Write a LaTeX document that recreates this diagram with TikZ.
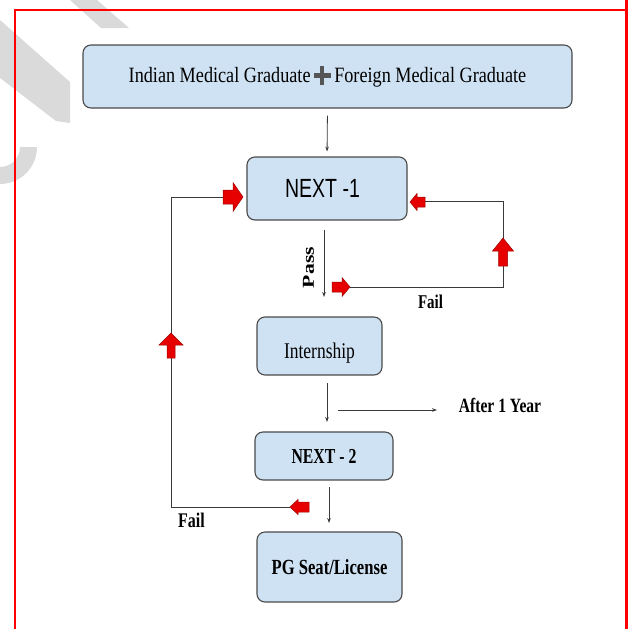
\documentclass[tikz,border=0pt]{standalone}
\usepackage{fontspec}
\setmainfont{Liberation Serif}
\newfontfamily\sansfont{Liberation Sans}
\usetikzlibrary{arrows.meta}
\definecolor{boxfill}{HTML}{CFE2F3}
\definecolor{boxdraw}{HTML}{4A4A4A}
\definecolor{linegray}{HTML}{3A3A3A}
\definecolor{wmgray}{HTML}{DADADA}
\definecolor{arrowred}{HTML}{E60000}
\definecolor{arrowedge}{HTML}{A00000}
\definecolor{plusgray}{HTML}{555555}
\definecolor{framered}{HTML}{FF0000}
\newcommand{\vs}[2]{\scalebox{1}[#1]{#2}}
\newcommand{\heavyplus}{\textcolor{plusgray}{\rlap{\rule[0.22em]{0.9em}{0.22em}}\hspace{0.34em}\rule[-0.12em]{0.22em}{0.9em}\hspace{0.34em}}}
% #1 tail point, #2 angle, #3 length, #4 head length, #5 shaft half width, #6 head half width
\newcommand{\blockarrow}[6]{\draw[redarrow, shift={#1}, rotate=#2] (0,-#5) -- ({#3-#4},-#5) -- ({#3-#4},-#6) -- (#3,0) -- ({#3-#4},#6) -- ({#3-#4},#5) -- (0,#5) -- cycle;}
\tikzset{
  box/.style={draw=boxdraw, line width=1.1pt, fill=boxfill, rounded corners=8pt, inner sep=0pt, align=center},
  conn/.style={draw=linegray, line width=0.8pt},
  thinarrow/.style={conn, -{Stealth[length=5pt,width=3.6pt]}},
  lbl/.style={inner sep=0pt},
  redarrow/.style={fill=arrowred, draw=arrowedge, line width=0.5pt, line join=miter},
  watermark/.style={fill=wmgray, draw=none},
  frame/.style={draw=framered, line width=1.4pt}
}
\begin{document}
\begin{tikzpicture}[x=1pt,y=-1pt]
\useasboundingbox (0,0) rectangle (631,629);
% watermark fragments
\fill[watermark] (70,0) -- (97,0) -- (129,28) -- (101,28) -- cycle;
\fill[watermark] (0,20) -- (70,82) -- (70,123) -- (56,121) -- (0,78) -- cycle;
\fill[watermark] (37,147) arc[start angle=0, end angle=90, radius=37] -- (0,167) arc[start angle=90, end angle=0, radius=20] -- cycle;
% frame
\draw[frame] (15,629) -- (15,10) -- (626,10);
\draw[framered, line width=2.4pt] (626.5,0) -- (626.5,629);
% boxes
\node[box, minimum width=489pt, minimum height=63pt, font=\fontsize{18.2}{22}\selectfont] (top) at (327.5,76.5)
  {\vs{1.2}{Indian Medical Graduate\hspace{0.2em}\heavyplus\hspace{0.2em}Foreign Medical Graduate}};
\node[box, minimum width=160pt, minimum height=63pt, font=\sansfont\fontsize{19.5}{22}\selectfont] (n1) at (327,188.5)
  {\hspace*{-9pt}\vs{1.35}{NEXT -1}};
\node[box, minimum width=125pt, minimum height=58pt, text height=30pt, text depth=6pt, font=\fontsize{17.5}{20}\selectfont] (intern) at (319.5,346)
  {\vs{1.28}{Internship}};
\node[box, minimum width=138pt, minimum height=48pt, font=\bfseries\fontsize{15.8}{18}\selectfont] (n2) at (324,456)
  {\vs{1.35}{NEXT - 2}};
\node[box, minimum width=145pt, minimum height=70pt, font=\bfseries\fontsize{16.6}{19}\selectfont] (pg) at (329.5,567)
  {\vs{1.3}{PG Seat/License}};
% labels
\node[lbl, rotate=90, font=\bfseries\fontsize{16.7}{19}\selectfont] (pass) at (308.5,267.5) {\scalebox{1.3}[1]{Pass}};
\node[lbl, font=\bfseries\fontsize{15}{18}\selectfont] (fail1) at (430.5,301.5) {\vs{1.3}{Fail}};
\node[lbl, font=\bfseries\fontsize{15.6}{18}\selectfont] (after) at (500,405) {\vs{1.3}{After 1 Year}};
\node[lbl, font=\bfseries\fontsize{16}{18}\selectfont] (fail2) at (191.5,520.5) {\vs{1.3}{Fail}};
% endpoints of connectors
\coordinate (passS) at (324,230);
\coordinate (passE) at (324,297);
\coordinate (intS) at (327,383);
\coordinate (intE) at (327,422);
\coordinate (yrS) at (338,410);
\coordinate (yrE) at (437,410);
\coordinate (n2S) at (329,487);
\coordinate (n2E) at (329,523);
\coordinate (f1a) at (350,287);
\coordinate (f1b) at (503,287);
\coordinate (f1c) at (503,201);
\coordinate (f1d) at (425,201);
\coordinate (f2a) at (290,507);
\coordinate (f2b) at (171,507);
\coordinate (f2c) at (171,197);
\coordinate (f2d) at (223,197);
% black connectors
\draw[thinarrow, shorten <=7pt, shorten >=5pt] (top.south) -- (n1.north);
\draw[thinarrow] (passS) -- (passE);
\draw[thinarrow] (intS) -- (intE);
\draw[thinarrow] (yrS) -- (yrE);
\draw[thinarrow] (n2S) -- (n2E);
% fail loops
\draw[conn] (f1a) -- (f1b) -- (f1c) -- (f1d);
\draw[conn] (f2a) -- (f2b) -- (f2c) -- (f2d);
% red block arrows
\blockarrow{(223,197)}{0}{20}{10}{7}{14.5}
\blockarrow{(425,202)}{180}{15}{7}{5}{8.5}
\blockarrow{(503,266)}{90}{28}{13}{4.5}{10.5}
\blockarrow{(332,287)}{0}{18}{8}{5}{9.5}
\blockarrow{(171,358)}{90}{25}{12}{4}{12}
\blockarrow{(309,507)}{180}{19}{8}{5}{7.5}
\end{tikzpicture}
\end{document}
